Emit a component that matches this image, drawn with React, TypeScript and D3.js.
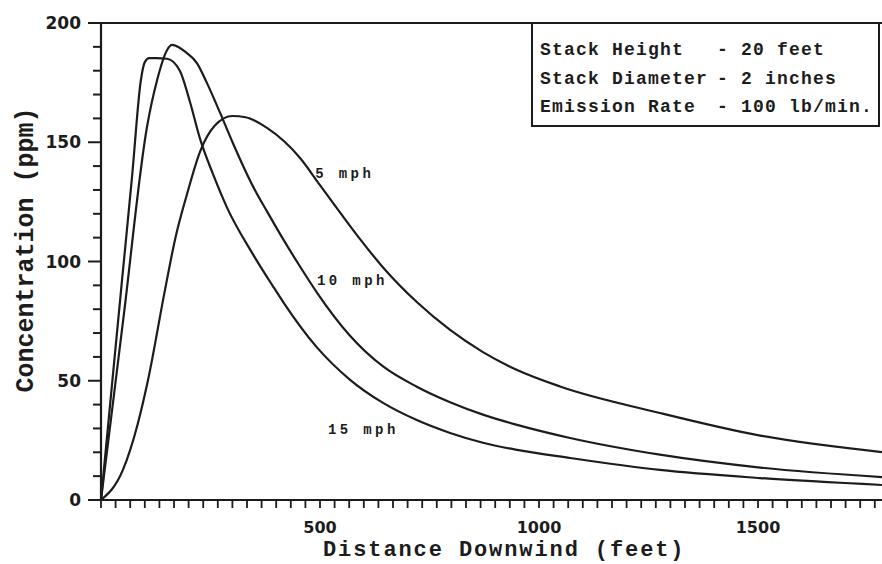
import React from 'react';
import * as d3 from 'd3';

// values (feet, ppm)
const distance5 = [0, 50, 84, 107, 146, 170, 196, 226, 260, 300, 330, 379, 454, 500, 546, 591, 644, 721, 797, 872, 950, 1048, 1276, 1505, 1783];
const conc5 = [0, 12.6, 32, 50, 88, 110, 128, 146, 157, 161, 160.5, 156, 143.5, 132, 120.5, 109.5, 97.5, 83, 71.3, 62, 54.5, 47.6, 36.5, 27, 20.1];

const distance10 = [0, 52, 105, 128, 151, 162, 196, 219, 242, 272, 301, 347, 379, 409, 454, 493, 568, 644, 721, 797, 872, 950, 1071, 1276, 1505, 1783];
const conc10 = [0, 77.5, 156.4, 176, 188.7, 190.8, 187.4, 183.2, 174.8, 162.3, 149.7, 131.5, 121, 111.5, 98, 87, 69, 56, 47.5, 41, 35.8, 31.5, 26, 19, 13.6, 9.6];

const distance15 = [0, 25, 48, 71, 91, 100, 110, 126, 151, 180, 203, 226, 256, 288, 347, 393, 416, 493, 568, 644, 721, 797, 872, 950, 1071, 1276, 1505, 1783];
const conc15 = [0, 48.2, 92.2, 135.8, 176, 183.6, 185.3, 185.3, 185, 180, 167, 151.5, 136.5, 122.5, 103, 89.5, 83, 64, 50.5, 40.7, 33.5, 28.1, 24, 21, 17.6, 12.6, 9.2, 6.3];

const xTickLabels = [500, 1000, 1500];
const yTickLabels = [0, 50, 100, 150, 200];
const legendNames = ['Stack Height', 'Stack Diameter', 'Emission Rate'];
const legendValues = ['20 feet', '2 inches', '100 lb/min.'];
const curveNames = ['5 mph', '10 mph', '15 mph'];

const W = 882;
const H = 564;
const ink = '#1c1c1c';

export default function App() {
  const x = d3.scaleLinear().domain([0, 1500]).range([101, 758]);
  const y = d3.scaleLinear().domain([0, 200]).range([500, 23]);
  const xMax = x.invert(W);

  const line = d3
    .line<[number, number]>()
    .x(d => x(d[0]))
    .y(d => y(d[1]))
    .curve(d3.curveMonotoneX);

  const series = [
    { name: curveNames[0], pts: distance5.map((d, i) => [d, conc5[i]] as [number, number]), at: [489, 135.2] },
    { name: curveNames[1], pts: distance10.map((d, i) => [d, conc10[i]] as [number, number]), at: [493, 90.1] },
    { name: curveNames[2], pts: distance15.map((d, i) => [d, conc15[i]] as [number, number]), at: [518, 27.7] }
  ];

  const xMinor = d3.range(0, xMax, 100 / 3);
  const yMinor = d3.range(0, 201, 10);

  const mono = "'Liberation Mono', 'DejaVu Sans Mono', monospace";

  return (
    <svg
      width={W}
      height={H}
      style={{ position: 'absolute', left: 0, top: 0, background: '#fff' }}
    >
      <defs>
        <clipPath id="plot">
          <rect x={x(0)} y={y(200)} width={W - x(0)} height={y(0) - y(200)} />
        </clipPath>
      </defs>

      {/* frame: left axis, bottom axis, top edge */}
      <g stroke={ink} strokeWidth={2.2} fill="none">
        <line x1={x(0)} x2={x(0)} y1={y(200)} y2={y(0)} />
        <line x1={x(0)} x2={W} y1={y(0)} y2={y(0)} />
        <line x1={88} x2={W} y1={y(200)} y2={y(200)} />
      </g>

      {/* y ticks */}
      <g stroke={ink} strokeWidth={2}>
        {yMinor.map(v => (
          <line key={v} x1={v % 50 === 0 ? 88 : 93} x2={x(0)} y1={y(v)} y2={y(v)} />
        ))}
      </g>
      <g fontFamily="'DejaVu Sans', sans-serif" fontWeight="bold" fontSize={17} fill={ink}>
        {yTickLabels.map(v => (
          <text key={v} x={81} y={y(v) + 6} textAnchor="end">{v}</text>
        ))}
      </g>

      {/* x ticks */}
      <g stroke={ink} strokeWidth={1.8}>
        {xMinor.map((v, i) => (
          <line key={i} x1={x(v)} x2={x(v)} y1={y(0)} y2={y(0) + 8} />
        ))}
      </g>
      <g fontFamily="'DejaVu Sans', sans-serif" fontWeight="bold" fontSize={16} fill={ink}>
        {xTickLabels.map(v => (
          <text key={v} x={x(v)} y={533} textAnchor="middle">{v}</text>
        ))}
      </g>

      {/* axis titles */}
      <text x={323} y={556} fontFamily={mono} fontWeight="bold" fontSize={22} letterSpacing={1.9} fill={ink}>
        Distance Downwind (feet)
      </text>
      <text
        transform="translate(33,250) rotate(-90)"
        textAnchor="middle"
        fontFamily={mono}
        fontWeight="bold"
        fontSize={25}
        fill={ink}
      >
        Concentration (ppm)
      </text>

      {/* curves */}
      <g clipPath="url(#plot)" fill="none" stroke={ink} strokeWidth={2.2} strokeLinejoin="round">
        {series.map(s => (
          <path key={s.name} d={line(s.pts) || ''} />
        ))}
      </g>
      <g fontFamily={mono} fontWeight="bold" fontSize={14} letterSpacing={3.4} fill={ink}>
        {series.map(s => (
          <text key={s.name} x={x(s.at[0])} y={y(s.at[1])}>{s.name}</text>
        ))}
      </g>

      {/* info box */}
      <rect x={532} y={y(200)} width={347} height={126 - y(200)} fill="#fff" stroke={ink} strokeWidth={2} />
      <g fontFamily={mono} fontWeight="bold" fontSize={18} letterSpacing={1.2} fill={ink}>
        {legendNames.map((t, i) => (
          <g key={t}>
            <text x={540} y={55 + i * 28.5}>{t}</text>
            <text x={717} y={55 + i * 28.5}>- {legendValues[i]}</text>
          </g>
        ))}
      </g>
    </svg>
  );
}
